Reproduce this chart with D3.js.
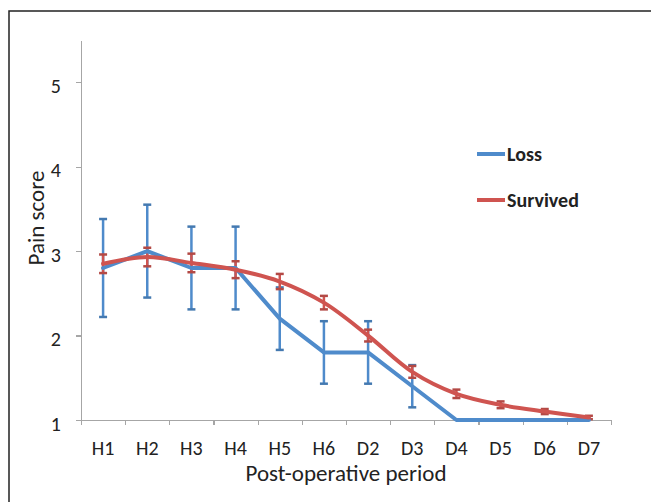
<!DOCTYPE html>
<html lang="en">
  <head>
    <meta charset="utf-8">
    <title>Pain score</title>
    <style>
      body{ margin:0; padding:0; background:#fff; }
      svg{ display:block; }
      text{ font-family: Calibri, Carlito, "Open Sans", "Liberation Sans", sans-serif; fill:#222; }
      .frame{ fill:none; stroke:#222; stroke-width:1.5; }
      .axis path, .axis line{ stroke:#a6a6a6; stroke-width:1.2; shape-rendering:crispEdges; }
      .tick text{ font-size:20px; fill:#222; }
      .line{ fill:none; stroke-width:4; stroke-linejoin:round; stroke-linecap:round; }
      .err{ stroke-width:2.5; fill:none; }
      .legend text{ font-size:20px; font-weight:bold; }
    </style>
  </head>
  <body>
    <div id="container"></div>
    <script src="https://cdn.jsdelivr.net/npm/d3@7"></script>
    <script type="text/javascript">

      // data
      var periods = ["H1","H2","H3","H4","H5","H6","D2","D3","D4","D5","D6","D7"];
      var lossMean = [2.8, 3.0, 2.8, 2.8, 2.2, 1.8, 1.8, 1.4, 1.0, 1.0, 1.0, 1.0];
      var lossErr  = [0.58, 0.55, 0.49, 0.49, 0.37, 0.37, 0.37, 0.25, 0, 0, 0, 0];
      var survMean = [2.85, 2.93, 2.86, 2.78, 2.64, 2.39, 2.0, 1.57, 1.31, 1.18, 1.1, 1.03];
      var survErr  = [0.11, 0.11, 0.11, 0.1, 0.09, 0.08, 0.07, 0.07, 0.05, 0.04, 0.03, 0.02];
      var yTicks = [1, 2, 3, 4, 5];
      var seriesNames = ["Loss", "Survived"];
      var colors = ["#4f8bcb", "#cf5450"];

      var width = 651,
          height = 502;

      var svg = d3.select('#container').append('svg')
        .attr('width', width).attr('height', height);

      // outer frame (only top and left are visible in the picture)
      svg.append('rect').attr('class', 'frame')
        .attr('x', 9).attr('y', 11)
        .attr('width', width + 20).attr('height', height + 20);

      var x = d3.scaleBand().domain(periods).range([81, 611]);
      var xEdge = d3.scaleLinear().domain([0, periods.length]).range([81, 611]);
      var y = d3.scaleLinear().domain([1, 5.5]).range([420, 40]);
      var cx = function(d, i){ return x(periods[i]) + x.bandwidth() / 2; };

      // y axis
      svg.append('g').attr('class', 'axis')
        .attr('transform', 'translate(81,0)')
        .call(d3.axisLeft(y).tickValues(yTicks).tickSize(5).tickSizeOuter(0).tickPadding(15).tickFormat(d3.format('d')))
        .call(function(g){ g.selectAll('.tick text').attr('dy', '0.5em'); });

      // x axis: ticks at category boundaries, labels centred
      svg.append('g').attr('class', 'axis')
        .attr('transform', 'translate(0,420)')
        .call(d3.axisBottom(xEdge).ticks(periods.length).tickSize(5).tickSizeOuter(0).tickFormat(''));

      svg.append('g').attr('class', 'axis')
        .attr('transform', 'translate(0,420)')
        .call(d3.axisBottom(x).tickSize(0).tickPadding(21))
        .call(function(g){ g.select('.domain').remove(); });

      // axis titles
      svg.append('text')
        .attr('x', 346).attr('y', 481)
        .attr('text-anchor', 'middle')
        .style('font-size', '23px')
        .text('Post-operative period');

      svg.append('text')
        .attr('transform', 'translate(44,218) rotate(-90)')
        .attr('text-anchor', 'middle')
        .style('font-size', '23px')
        .text('Pain score');

      var series = [
        { name: seriesNames[0], mean: lossMean, err: lossErr, color: colors[0], curve: d3.curveLinear },
        { name: seriesNames[1], mean: survMean, err: survErr, color: colors[1], curve: d3.curveCatmullRom.alpha(0.5) }
      ];

      // error bars under the lines
      series.forEach(function(s){
        var g = svg.append('g').attr('class', 'errbars');
        var pts = s.mean.map(function(m, i){ return { i: i, m: m, e: s.err[i] }; })
          .filter(function(d){ return d.e > 0; });
        g.selectAll('line.stem').data(pts).enter().append('line')
          .attr('class', 'err').attr('stroke', s.color)
          .attr('x1', function(d){ return cx(d, d.i); })
          .attr('x2', function(d){ return cx(d, d.i); })
          .attr('y1', function(d){ return y(d.m - d.e); })
          .attr('y2', function(d){ return y(d.m + d.e); });
        [-1, 1].forEach(function(sign){
          g.selectAll('line.cap' + sign).data(pts).enter().append('line')
            .attr('class', 'err').attr('stroke', d3.color(s.color).darker(0.4))
            .attr('x1', function(d){ return cx(d, d.i) - 4; })
            .attr('x2', function(d){ return cx(d, d.i) + 4; })
            .attr('y1', function(d){ return y(d.m + sign * d.e); })
            .attr('y2', function(d){ return y(d.m + sign * d.e); });
        });
      });

      // lines
      series.forEach(function(s){
        var line = d3.line()
          .x(function(d, i){ return cx(d, i); })
          .y(function(d){ return y(d); })
          .curve(s.curve);
        svg.append('path').attr('class', 'line')
          .attr('stroke', s.color)
          .attr('d', line(s.mean));
      });

      // legend
      var legend = svg.append('g').attr('class', 'legend');
      series.forEach(function(s, i){
        var ly = 154 + i * 46;
        legend.append('line')
          .attr('x1', 477).attr('x2', 505).attr('y1', ly).attr('y2', ly)
          .attr('stroke', s.color).attr('stroke-width', 4);
        legend.append('text')
          .attr('x', 507).attr('y', ly + 7)
          .text(s.name);
      });

    </script>
  </body>
</html>
